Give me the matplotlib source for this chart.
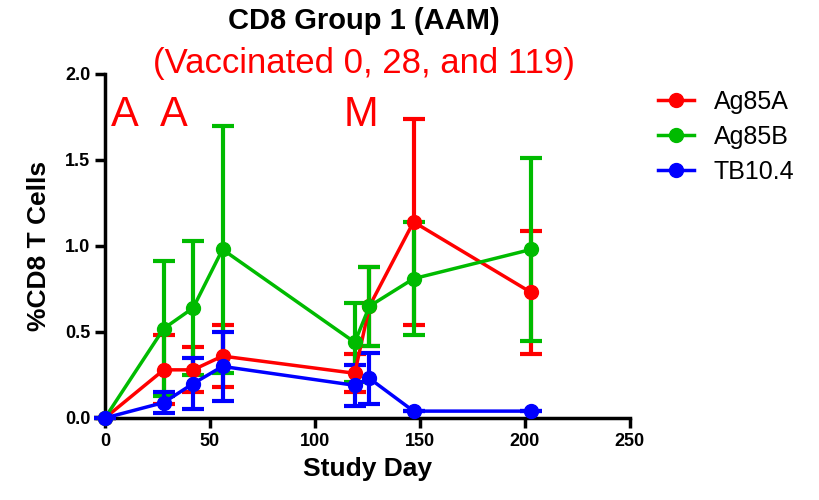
import matplotlib
matplotlib.use("Agg")
import matplotlib.pyplot as plt
from matplotlib.lines import Line2D

# study days and group means / SEM
days = [0, 28, 42, 56, 119, 126, 147, 203]

ag85a = [0.0, 0.28, 0.28, 0.36, 0.26, 0.65, 1.14, 0.73]
ag85a_err = [0.0, 0.20, 0.13, 0.18, 0.11, 0.23, 0.60, 0.36]

ag85b = [0.0, 0.52, 0.64, 0.98, 0.44, 0.65, 0.81, 0.98]
ag85b_err = [0.0, 0.39, 0.39, 0.72, 0.23, 0.23, 0.33, 0.53]

tb104 = [0.0, 0.09, 0.20, 0.30, 0.19, 0.23, 0.04, 0.04]
tb104_err = [0.0, 0.06, 0.15, 0.20, 0.12, 0.15, 0.0, 0.0]

series_names = ["Ag85A", "Ag85B", "TB10.4"]
colors = ["#ff0000", "#00bb00", "#0000ff"]

# vaccination markers
vacc_labels = ["A", "A", "M"]
vacc_x = [9.5, 33, 122]

xticks = [0, 50, 100, 150, 200, 250]
yticks = [0.0, 0.5, 1.0, 1.5, 2.0]

plt.rcParams["font.family"] = ["Liberation Sans", "DejaVu Sans"]

fig = plt.figure(figsize=(8.2, 5), dpi=100)
ax = fig.add_axes([0.128, 0.164, 0.64, 0.688])

data = [(ag85a, ag85a_err), (ag85b, ag85b_err), (tb104, tb104_err)]
for (vals, errs), c in zip(data, colors):
    ax.errorbar(days, vals, yerr=errs, color=c, marker="o", markersize=10,
                linewidth=2.5, elinewidth=3, capsize=8, capthick=3,
                clip_on=False, zorder=3)

for lab, x in zip(vacc_labels, vacc_x):
    ax.text(x, 1.76, lab, color="red", fontsize=30, ha="center", va="center")

ax.set_xlim(0, 250)
ax.set_ylim(0, 2.0)
ax.set_xticks(xticks)
ax.set_yticks(yticks)
ax.set_yticklabels(["%.1f" % t for t in yticks])
for lbl in ax.get_xticklabels() + ax.get_yticklabels():
    lbl.set_fontweight("bold")
    lbl.set_fontsize(13)

ax.spines["top"].set_visible(False)
ax.spines["right"].set_visible(False)
ax.spines["left"].set_linewidth(2.5)
ax.spines["bottom"].set_linewidth(2.5)
ax.tick_params(width=2.5, length=7, direction="out")

ax.set_xlabel("Study Day", fontsize=19, fontweight="bold", labelpad=5)
ax.set_ylabel("%CD8 T Cells", fontsize=19, fontweight="bold", labelpad=10)

fig.text(0.444, 0.958, "CD8 Group 1 (AAM)", fontsize=21, fontweight="bold",
         ha="center", va="center")
fig.text(0.444, 0.874, "(Vaccinated 0, 28, and 119)", fontsize=25, color="red",
         ha="center", va="center")

handles = [Line2D([], [], color=c, marker="o", markersize=10, linewidth=2.5)
           for c in colors]
ax.legend(handles, series_names, loc="upper left", bbox_to_anchor=(1.01, 1.02),
          frameon=False, fontsize=18, handlelength=1.45, handletextpad=0.8,
          labelspacing=0.45)

fig.savefig("out.png", dpi=100)
